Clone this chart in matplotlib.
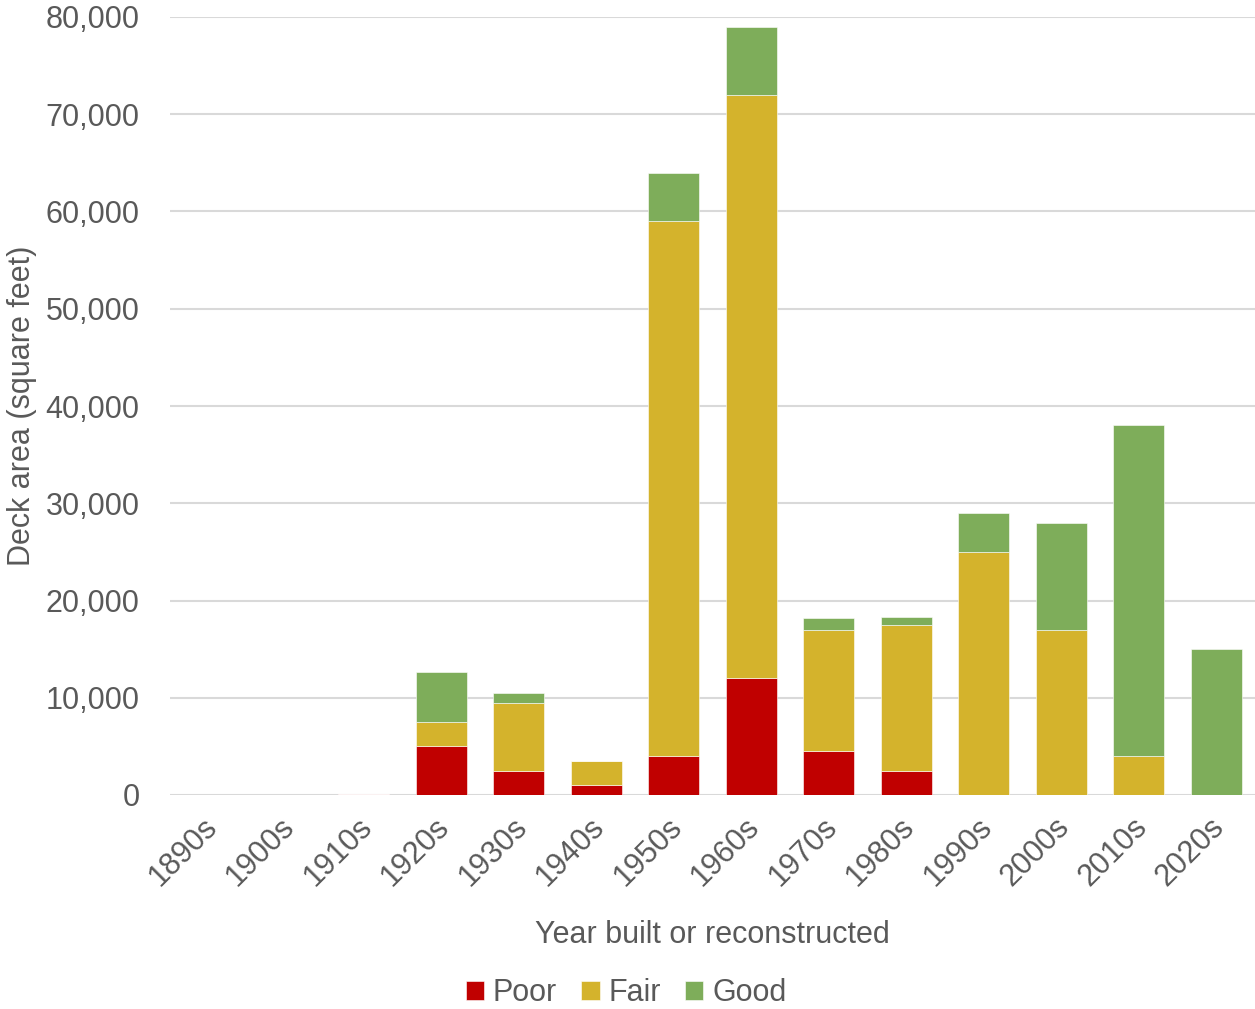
import matplotlib
matplotlib.use("Agg")
import matplotlib.pyplot as plt
from matplotlib.ticker import FuncFormatter
from matplotlib.transforms import ScaledTranslation
import numpy as np

decades = ["1890s", "1900s", "1910s", "1920s", "1930s", "1940s", "1950s",
           "1960s", "1970s", "1980s", "1990s", "2000s", "2010s", "2020s"]
poor = [0, 0, 150, 5000, 2500, 1000, 4000, 12000, 4500, 2500, 0, 0, 0, 0]
fair = [0, 0, 0, 2500, 7000, 2500, 55000, 60000, 12500, 15000, 25000, 17000, 4000, 0]
good = [0, 0, 0, 5100, 1000, 0, 5000, 7000, 1200, 800, 4000, 11000, 34000, 15000]

plt.rcParams['font.family'] = ['Liberation Sans', 'DejaVu Sans']
txt = '#595959'
fs = 22

fig = plt.figure(figsize=(12.55, 10.09), dpi=100)
ax = fig.add_axes([170/1255, (1009-795)/1009, 1085/1255, 778/1009])

x = np.arange(len(decades))
poor = np.array(poor); fair = np.array(fair); good = np.array(good)
w = 0.66
ec = 'white'
ax.bar(x, poor, w, color='#C00000', edgecolor=ec, linewidth=0.4, label='Poor', zorder=3)
ax.bar(x, fair, w, bottom=poor, color='#D4B32C', edgecolor=ec, linewidth=0.4, label='Fair', zorder=3)
ax.bar(x, good, w, bottom=poor + fair, color='#7EAD5A', edgecolor=ec, linewidth=0.4, label='Good', zorder=3)

ax.set_xlim(-0.5, len(decades) - 0.5)
ax.set_ylim(0, 80000)
ax.set_yticks(np.arange(0, 80001, 10000))
ax.yaxis.set_major_formatter(FuncFormatter(lambda v, p: f"{int(v):,}"))
ax.grid(axis='y', color='#d9d9d9', linewidth=1.5, zorder=0)
ax.set_axisbelow(True)
for s in ax.spines.values():
    s.set_visible(False)
ax.tick_params(axis='both', length=0, labelsize=fs, labelcolor=txt)
ax.tick_params(axis='y', pad=22)
ax.set_xticks(x)
ax.set_xticklabels(decades, rotation=45, ha='right', rotation_mode='anchor')
ax.tick_params(axis='x', pad=12)
off = ScaledTranslation(-7/100, 0, fig.dpi_scale_trans)
for lab in ax.get_xticklabels():
    lab.set_transform(lab.get_transform() + off)

ax.set_ylabel("Deck area (square feet)", fontsize=fs, color=txt, labelpad=6)
ax.set_xlabel("Year built or reconstructed", fontsize=fs, color=txt, labelpad=20)

leg = fig.legend(loc='center', bbox_to_anchor=(626/1255, 1 - 993/1009), ncol=3,
                 frameon=False, fontsize=fs, handlelength=0.6, handleheight=0.6,
                 handletextpad=0.28, columnspacing=0.8, labelcolor=txt)

fig.savefig("out.png", dpi=100)
